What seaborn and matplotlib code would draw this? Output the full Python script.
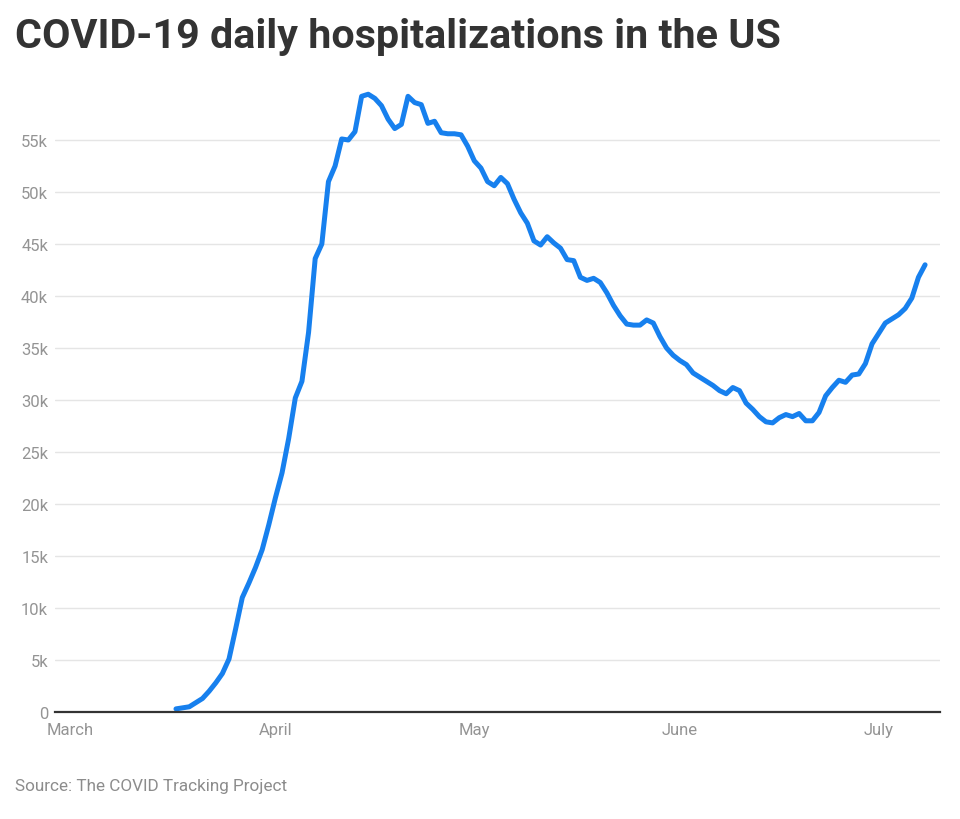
import numpy as np
import pandas as pd
import matplotlib
matplotlib.use("Agg")
import matplotlib.pyplot as plt
import seaborn as sns
from matplotlib import font_manager

# ---- data ----
start_date = "2020-03-17"
hospitalized_k = [
    0.3, 0.4, 0.5, 0.9, 1.3, 2.0, 2.8, 3.7, 5.1, 8.0,
    11.0, 12.4, 13.9, 15.6, 18.0, 20.6, 23.0, 26.3, 30.2, 31.8,
    36.5, 43.6, 45.0, 51.0, 52.5, 55.1, 55.0, 55.8, 59.2, 59.4,
    59.0, 58.3, 57.0, 56.1, 56.5, 59.2, 58.6, 58.4, 56.6, 56.8,
    55.7, 55.6, 55.6, 55.5, 54.4, 53.0, 52.3, 51.0, 50.6, 51.4,
    50.8, 49.3, 48.0, 47.0, 45.3, 44.9, 45.7, 45.1, 44.6, 43.5,
    43.4, 41.8, 41.5, 41.7, 41.3, 40.3, 39.1, 38.1, 37.3, 37.2,
    37.2, 37.7, 37.4, 36.1, 35.0, 34.3, 33.8, 33.4, 32.6, 32.2,
    31.8, 31.4, 30.9, 30.6, 31.2, 30.9, 29.7, 29.1, 28.4, 27.9,
    27.8, 28.3, 28.6, 28.4, 28.7, 28.0, 28.0, 28.8, 30.4, 31.2,
    31.9, 31.7, 32.4, 32.5, 33.5, 35.4, 36.4, 37.4, 37.8, 38.2,
    38.8, 39.8, 41.8, 43.0,
]
month_ticks = ["2020-03-01", "2020-04-01", "2020-05-01", "2020-06-01", "2020-07-01"]
month_labels = ["March", "April", "May", "June", "July"]
y_ticks = [0, 5000, 10000, 15000, 20000, 25000, 30000, 35000, 40000, 45000, 50000, 55000]
y_labels = ["0", "5k", "10k", "15k", "20k", "25k", "30k", "35k", "40k", "45k", "50k", "55k"]
title = "COVID-19 daily hospitalizations in the US"
source = "Source: The COVID Tracking Project"

dates = pd.date_range(start_date, periods=len(hospitalized_k), freq="D")
df = pd.DataFrame({"date": dates, "hosp": np.array(hospitalized_k) * 1000})

sns.set_theme(style="white")
avail = {f.name for f in font_manager.fontManager.ttflist}
fam = "Roboto" if "Roboto" in avail else "DejaVu Sans"
plt.rcParams["font.family"] = [fam, "DejaVu Sans"]

fig = plt.figure(figsize=(9.6, 8.2), dpi=100)
ax = fig.add_axes([55 / 960, 107 / 820, (940 - 55) / 960, (713 - 89) / 820])

sns.lineplot(data=df, x="date", y="hosp", ax=ax, color="#1780ee", linewidth=3.6,
             solid_joinstyle="round", solid_capstyle="round", clip_on=False)

ax.set_xlim(pd.Timestamp("2020-02-27 18:00"), pd.Timestamp("2020-07-10 06:00"))
ax.set_ylim(0, 60000)
ax.set_xticks(pd.to_datetime(month_ticks))
ax.set_xticklabels(month_labels)
ax.set_yticks(y_ticks)
ax.set_yticklabels(y_labels)
ax.set_xlabel("")
ax.set_ylabel("")
ax.grid(axis="y", color="#e5e5e5", linewidth=1.0)
ax.grid(axis="x", visible=False)
for s in ["top", "right", "left"]:
    ax.spines[s].set_visible(False)
ax.spines["bottom"].set_color("#333333")
ax.spines["bottom"].set_linewidth(1.6)
ax.spines["bottom"].set_zorder(5)
ax.tick_params(axis="both", length=0, labelsize=12, colors="#949494")
ax.tick_params(axis="x", pad=7)
ax.tick_params(axis="y", pad=5)

fig.text(15 / 960, 1 - 37 / 820, title, fontsize=29.7, fontweight="bold",
         color="#333333", va="center", ha="left")
fig.text(15 / 960, 1 - 787 / 820, source, fontsize=12.3, color="#8c8c8c",
         va="center", ha="left")

fig.savefig("out.png", dpi=100)
